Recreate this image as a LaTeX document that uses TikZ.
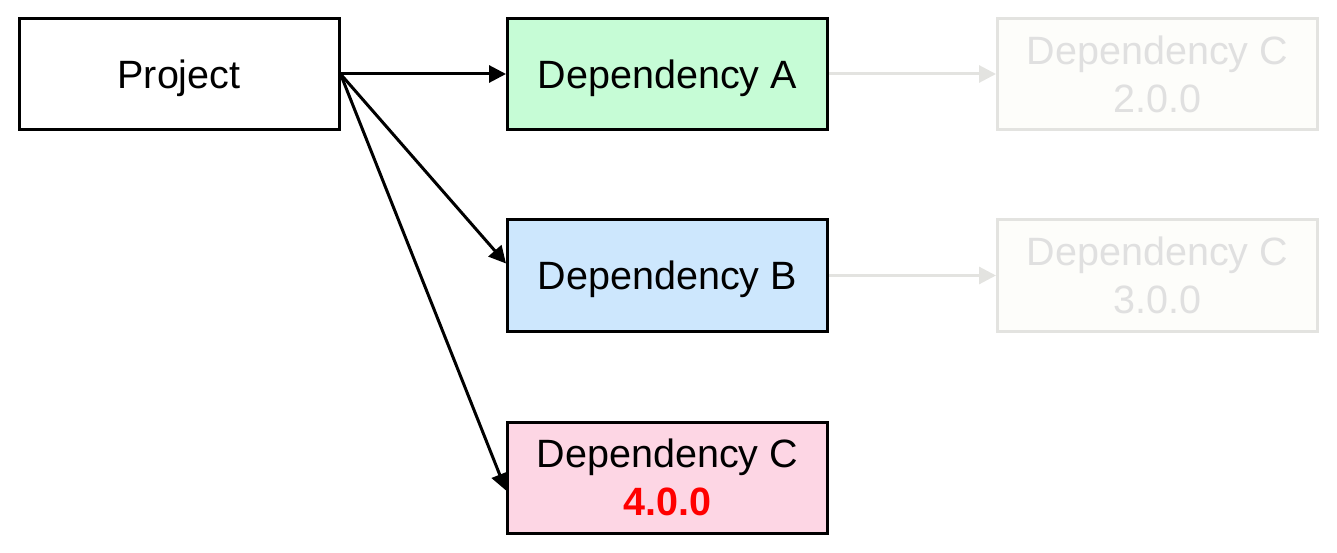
\documentclass[tikz,border=0pt]{standalone}
\usepackage{fontspec}
\setmainfont{Liberation Sans}
\usetikzlibrary{arrows.meta,calc}
\definecolor{greenfill}{HTML}{C6FCD6}
\definecolor{bluefill}{HTML}{CDE7FD}
\definecolor{pinkfill}{HTML}{FDD6E4}
\definecolor{ghostfill}{HTML}{FDFDFA}
\definecolor{ghostline}{HTML}{E3E3E0}
\definecolor{ghosttext}{HTML}{E0E0E0}
\definecolor{verred}{HTML}{FF0000}
\tikzset{
  box/.style={draw=black, line width=3pt, rectangle, minimum width=320pt, minimum height=111pt,
    inner sep=0pt, align=center, font=\fontsize{39.5}{48}\selectfont},
  oneline/.style={text height=28.3pt, text depth=0pt},
  ghost/.style={box, draw=ghostline, fill=ghostfill, text=ghosttext},
  conn/.style={line width=3pt, -{Triangle[length=17pt,width=17pt]}},
  ghostconn/.style={conn, draw=ghostline, color=ghostline},
}
\begin{document}
\begin{tikzpicture}[x=1pt,y=-1pt]
\useasboundingbox (0,0) rectangle (1337,553);
\node[box, oneline] (P) at (179,74) {Project};
\node[box, oneline, fill=greenfill] (A) at (667.5,74) {Dependency A};
\node[box, oneline, fill=bluefill] (B) at (667.5,275.5) {Dependency B};
\node[box, fill=pinkfill] (C) at (667.5,477.5) {Dependency C\\\textcolor{verred}{\bfseries 4.0.0}};
\node[ghost] (GA) at (1157.5,74) {Dependency C\\2.0.0};
\node[ghost] (GB) at (1157.5,275.5) {Dependency C\\3.0.0};
\coordinate (Bin) at ($(B.west)+(0,-12)$);
\coordinate (Cin) at ($(C.west)+(0,13)$);
\draw[conn] (P.east) -- (A.west);
\draw[conn] (P.east) -- (Bin);
\draw[conn] (P.east) -- (Cin);
\draw[ghostconn] (A.east) -- (GA.west);
\draw[ghostconn] (B.east) -- (GB.west);
\end{tikzpicture}
\end{document}
